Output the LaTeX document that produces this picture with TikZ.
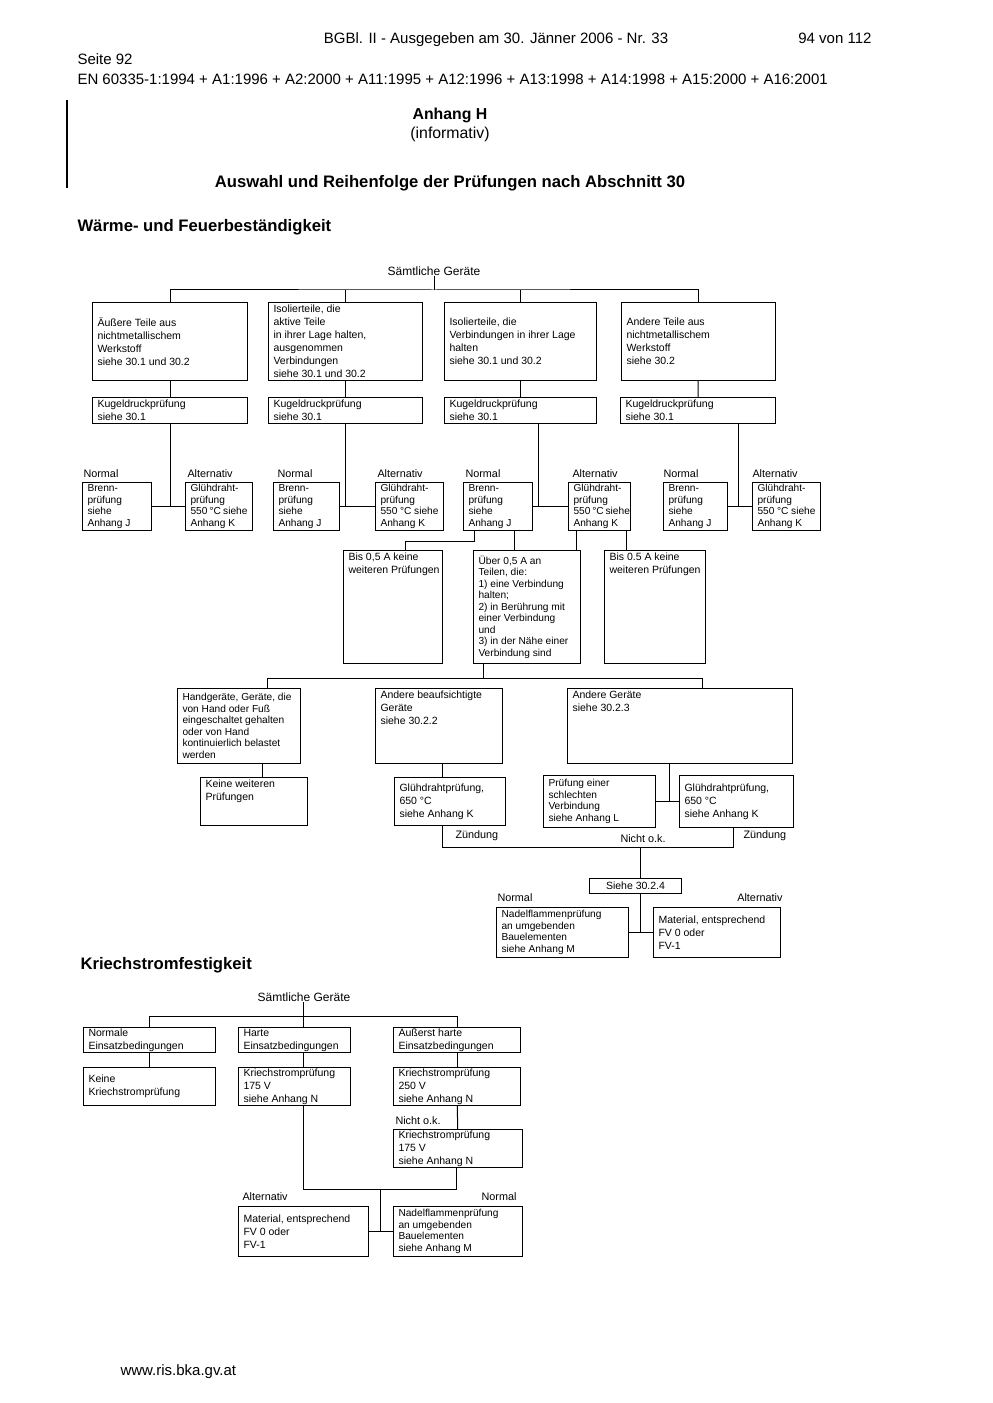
\documentclass[tikz,border=0pt]{standalone}
\usepackage{fontspec}
\setmainfont{Liberation Sans}
\usepackage{tikz}
\newlength{\pxl}
\setlength{\pxl}{0.6pt}
\newcommand{\bx}[4][t]{\parbox[t][\dimexpr#3\pxl-3pt\relax][#1]{\dimexpr#2\pxl-6pt\relax}{\raggedright\hyphenpenalty=10000 #4}}

\begin{document}
\begin{tikzpicture}
  [x=0.6pt,y=-0.6pt,line width=0.6pt,
   boxN/.style={draw,anchor=north west,inner xsep=3pt,inner ysep=1.5pt,font=\fontsize{6.3}{7.8}\selectfont},
   smallN/.style={boxN,font=\fontsize{6.1}{6.9}\selectfont},
   lblN/.style={inner sep=0pt,font=\fontsize{6.5}{8}\selectfont},
   topN/.style={inner sep=0pt,font=\fontsize{7.2}{9}\selectfont},
   pageN/.style={inner sep=0pt,font=\fontsize{9}{11}\selectfont},
   headN/.style={inner sep=0pt,font=\fontsize{10}{12}\selectfont\bfseries},
  ]
 \useasboundingbox (0,0) rectangle (992,1403);

 \node[pageN,anchor=base]      (hdr) at (496,44) {BGBl. II - Ausgegeben am 30. Jänner 2006 - Nr. 33};
 \node[pageN,anchor=base east] (pgn) at (872,44) {94 von 112};
 \node[pageN,anchor=base west] (sei) at (77,65)  {Seite 92};
 \node[pageN,anchor=base west] (en)  at (77,85)  {EN 60335-1:1994 + A1:1996 + A2:2000 + A11:1995 + A12:1996 + A13:1998 + A14:1998 + A15:2000 + A16:2001};
 \draw[line width=1.2pt] (67,100) -- (67,188);
 \node[headN,anchor=base,font=\fontsize{9.5}{11}\selectfont\bfseries] (anh) at (450,120) {Anhang H};
 \node[pageN,anchor=base,font=\fontsize{9.5}{11}\selectfont]          (inf) at (450,139) {(informativ)};
 \node[headN,anchor=base]      (ttl)  at (450,188) {Auswahl und Reihenfolge der Prüfungen nach Abschnitt 30};
 \node[headN,anchor=base west] (sec1) at (77,232)  {Wärme- und Feuerbeständigkeit};

 % Waerme- und Feuerbestaendigkeit
 \node[topN] (alle) at (434,271) {Sämtliche Geräte};
 \coordinate (j1) at (434,290);

 \node[boxN] (ta) at (92,302)  {\bx[c]{155}{78}{Äußere Teile aus\\nichtmetallischem\\Werkstoff\\siehe 30.1 und 30.2}};
 \node[boxN] (tb) at (268,302) {\bx[c]{154}{78}{Isolierteile, die\\aktive Teile\\in ihrer Lage halten,\\ausgenommen\\Verbindungen\\siehe 30.1 und 30.2}};
 \node[boxN] (tc) at (444,302) {\bx[c]{152}{78}{Isolierteile, die\\Verbindungen in ihrer Lage\\halten\\siehe 30.1 und 30.2}};
 \node[boxN] (td) at (621,302) {\bx[c]{154}{78}{Andere Teile aus\\nichtmetallischem\\Werkstoff\\siehe 30.2}};

 \node[boxN] (ka) at (92,397)  {\bx[c]{155}{26}{Kugeldruckprüfung\\siehe 30.1}};
 \node[boxN] (kb) at (268,397) {\bx[c]{154}{26}{Kugeldruckprüfung\\siehe 30.1}};
 \node[boxN] (kc) at (444,397) {\bx[c]{152}{26}{Kugeldruckprüfung\\siehe 30.1}};
 \node[boxN] (kd) at (620,397) {\bx[c]{155}{26}{Kugeldruckprüfung\\siehe 30.1}};

 \node[lblN,anchor=base west] (na) at (83,477)  {Normal};
 \node[lblN,anchor=base west] (aa) at (187,477) {Alternativ};
 \node[lblN,anchor=base west] (nb) at (277,477) {Normal};
 \node[lblN,anchor=base west] (ab) at (377,477) {Alternativ};
 \node[lblN,anchor=base west] (nc) at (465,477) {Normal};
 \node[lblN,anchor=base west] (ac) at (572,477) {Alternativ};
 \node[lblN,anchor=base west] (nd) at (663,477) {Normal};
 \node[lblN,anchor=base west] (ad) at (752,477) {Alternativ};

 \node[smallN] (ba) at (82,482)  {\bx[c]{69}{48}{Brenn-\\prüfung\\siehe\\Anhang J}};
 \node[smallN] (ga) at (185,482) {\bx[c]{67}{48}{Glühdraht-\\prüfung\\550~°C~siehe\\Anhang K}};
 \node[smallN] (bb) at (273,482) {\bx[c]{66}{48}{Brenn-\\prüfung\\siehe\\Anhang J}};
 \node[smallN] (gb) at (375,482) {\bx[c]{68}{48}{Glühdraht-\\prüfung\\550~°C~siehe\\Anhang K}};
 \node[smallN] (bc) at (463,482) {\bx[c]{69}{48}{Brenn-\\prüfung\\siehe\\Anhang J}};
 \node[smallN] (gc) at (568,482) {\bx[c]{62}{48}{Glühdraht-\\prüfung\\550~°C~siehe\\Anhang K}};
 \node[smallN] (bd) at (663,482) {\bx[c]{64}{48}{Brenn-\\prüfung\\siehe\\Anhang J}};
 \node[smallN] (gd) at (752,482) {\bx[c]{68}{48}{Glühdraht-\\prüfung\\550~°C~siehe\\Anhang K}};

 \node[boxN]   (bl) at (343,550) {\bx{99}{113}{Bis 0,5 A keine\\\mbox{weiteren Prüfungen}}};
 \node[smallN] (ub) at (473,550) {\bx[c]{107}{113}{Über 0,5 A an\\Teilen, die:\\1) eine Verbindung\\halten;\\2) in Berührung mit\\einer Verbindung\\und\\3) in der Nähe einer\\Verbindung sind}};
 \node[boxN]   (br) at (604,550) {\bx{101}{113}{Bis 0.5 A keine\\\mbox{weiteren Prüfungen}}};

 \node[smallN] (hg) at (177,688) {\bx[c]{123}{75}{Handgeräte, Geräte, die\\von Hand oder Fuß\\eingeschaltet gehalten\\oder von Hand\\kontinuierlich belastet\\werden}};
 \node[boxN]   (bg) at (375,688) {\bx{127}{75}{Andere beaufsichtigte\\Geräte\\siehe 30.2.2}};
 \node[boxN]   (af) at (567,688) {\bx{225}{75}{Andere Geräte\\siehe 30.2.3}};

 \node[boxN]   (kw)  at (200,777) {\bx{107}{48}{Keine weiteren\\Prüfungen}};
 \node[boxN]   (g6a) at (394,777) {\bx[c]{111}{48}{Glühdrahtprüfung,\\650 °C\\siehe Anhang K}};
 \node[smallN] (pv)  at (543,775) {\bx[c]{112}{52}{Prüfung einer\\schlechten\\Verbindung\\siehe Anhang L}};
 \node[boxN]   (g6b) at (679,775) {\bx[c]{114}{52}{Glühdrahtprüfung,\\650 °C\\siehe Anhang K}};

 \node[lblN,anchor=base west] (zl)  at (455,838) {Zündung};
 \node[lblN,anchor=base west] (nok) at (620,842) {Nicht o.k.};
 \node[lblN,anchor=base west] (zr)  at (743,838) {Zündung};

 \node[boxN,inner ysep=0.6pt] (s24) at (589,878) {\bx[c]{92}{18}{\centering Siehe 30.2.4}};

 \node[lblN,anchor=base west] (nn) at (497,901) {Normal};
 \node[lblN,anchor=base east] (an) at (783,901) {Alternativ};
 \node[smallN] (nf) at (496,907) {\bx[c]{132}{50}{Nadelflammenprüfung\\an umgebenden\\Bauelementen\\siehe Anhang M}};
 \node[boxN]   (mt) at (653,907) {\bx[c]{127}{50}{Material, entsprechend\\FV 0 oder\\FV-1}};

 \draw (alle) -- (j1);
 \draw (ta.north) |- (j1) -| (td.north);
 \draw (tb.north) -- (tb.north |- j1);
 \draw (tc.north) -- (tc.north |- j1);
 \draw (ta) -- (ka);
 \draw (tb) -- (kb);
 \draw (tc) -- (kc);
 \draw (td) -- (kd);

 \coordinate (jc) at (538,506);
 \coordinate (jd) at (738,506);
 \draw (ka) -- (ka |- ba);
 \draw (kb) -- (kb |- bb);
 \draw (kc.south -| jc) -- (jc);
 \draw (kd.south -| jd) -- (jd);
 \draw (ba) -- (ga);
 \draw (bb) -- (gb);
 \draw (bc) -- (gc);
 \draw (bd) -- (gd);

 \coordinate (e1) at (474,541);
 \coordinate (e2) at (405,541);
 \coordinate (e3) at (514,540);
 \coordinate (e4) at (576,540);
 \coordinate (e5) at (626,540);
 \draw (bc.south -| e1) -- (e1) -- (e2) -- (bl.north -| e2);
 \draw (bc.south -| e3) -- (ub.north -| e3);
 \draw (gc.south -| e4) -- (ub.north -| e4);
 \draw (gc.south -| e5) -- (br.north -| e5);

 \coordinate (e6) at (483,678);
 \coordinate (e7) at (267,678);
 \coordinate (e8) at (702,678);
 \draw (ub.south -| e6) -- (e6);
 \draw (hg.north -| e7) -- (e7) -- (e8) -- (af.north -| e8);

 \coordinate (e9)  at (262,770);
 \coordinate (e10) at (669,801);
 \coordinate (e11) at (442,847);
 \coordinate (e12) at (733,847);
 \coordinate (e13) at (640,847);
 \coordinate (e14) at (640,932);
 \draw (hg.south -| e9) -- (kw.north -| e9);
 \draw (bg.south -| e11) -- (g6a.north -| e11);
 \draw (af.south -| e10) -- (e10);
 \draw (pv) -- (g6b);
 \draw (g6a.south -| e11) -- (e11) -- (e12) -- (g6b.south -| e12);
 \draw (e13) -- (s24.north -| e13);
 \draw (s24.south -| e14) -- (e14);
 \draw (nf) -- (mt);

 % Kriechstromfestigkeit
 \node[headN,anchor=base west] (sec2) at (80,969) {Kriechstromfestigkeit};
 \node[topN] (alle2) at (304,997) {Sämtliche Geräte};
 \coordinate (f1) at (303,1016);

 \node[boxN] (nb2) at (83,1027)  {\bx[c]{132}{25}{Normale\\Einsatzbedingungen}};
 \node[boxN] (hb2) at (238,1027) {\bx[c]{112}{25}{Harte\\Einsatzbedingungen}};
 \node[boxN] (xb2) at (393,1027) {\bx[c]{127}{25}{Äußerst harte\\Einsatzbedingungen}};

 \node[boxN] (kn)   at (83,1067)  {\bx[c]{132}{38}{Keine\\Kriechstromprüfung}};
 \node[boxN] (k175) at (238,1067) {\bx[c]{112}{38}{Kriechstromprüfung\\175 V\\siehe Anhang N}};
 \node[boxN] (k250) at (393,1067) {\bx[c]{127}{38}{Kriechstromprüfung\\250 V\\siehe Anhang N}};

 \node[lblN,anchor=base west] (nok2) at (395,1124) {Nicht o.k.};
 \node[boxN] (k175b) at (393,1129) {\bx[c]{129}{38}{Kriechstromprüfung\\175 V\\siehe Anhang N}};

 \node[lblN,anchor=base west] (an2) at (242,1200) {Alternativ};
 \node[lblN,anchor=base east] (nn2) at (517,1200) {Normal};
 \node[boxN]   (mt2) at (238,1206) {\bx[c]{130}{50}{Material, entsprechend\\FV 0 oder\\FV-1}};
 \node[smallN] (nf2) at (393,1206) {\bx[c]{129}{50}{Nadelflammenprüfung\\an umgebenden\\Bauelementen\\siehe Anhang M}};

 \draw (alle2.south -| f1) -- (f1);
 \draw (nb2.north) |- (f1) -| (xb2.north);
 \draw (f1) -- (hb2.north -| f1);
 \draw (nb2) -- (kn);
 \draw (hb2.south -| f1) -- (k175.north -| f1);
 \draw (xb2) -- (k250);
 \draw (k250) -- (k175b);

 \coordinate (f2) at (303,1189);
 \coordinate (f3) at (456,1189);
 \coordinate (f4) at (380,1189);
 \draw (k175.south -| f2) -- (f2) -- (f3) -- (k175b.south -| f3);
 \draw (f4) -- (f4 |- mt2);
 \draw (mt2) -- (nf2);

 \node[pageN,anchor=base west] (url) at (120,1375) {www.ris.bka.gv.at};

\end{tikzpicture}
\end{document}
